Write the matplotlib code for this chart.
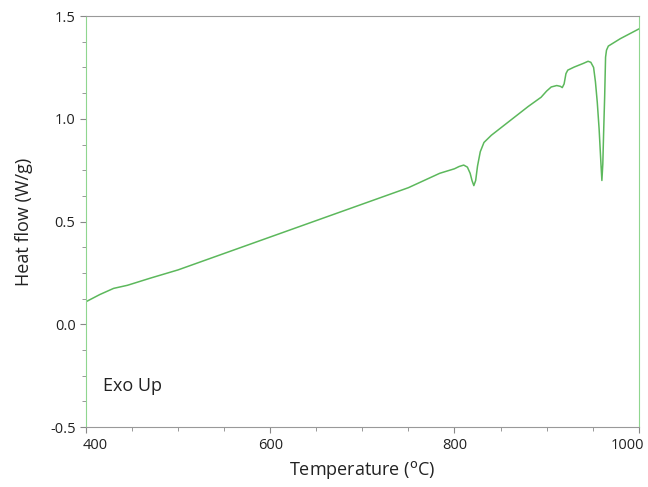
import matplotlib
matplotlib.use("Agg")
from matplotlib import pyplot as plt
from matplotlib.ticker import MultipleLocator
from matplotlib import transforms

plt.rcParams['font.family'] = ['Open Sans', 'DejaVu Sans']

# temperature (C) and heat flow (W/g)
temp = [400, 415, 430, 445, 470, 500, 550, 600, 650, 700, 750, 784, 800,
        805, 810, 814, 817, 819, 821, 823, 825, 828, 832, 840, 860, 880,
        894, 900, 905, 911, 915, 917, 919, 921, 923, 930, 940, 945, 948,
        951, 953, 955, 957, 959, 960, 961, 962, 963, 964, 965, 967, 980, 1000]
flow = [0.11, 0.145, 0.175, 0.19, 0.225, 0.265, 0.345, 0.425, 0.505, 0.585,
        0.665, 0.735, 0.757, 0.768, 0.775, 0.765, 0.735, 0.70, 0.675, 0.70,
        0.77, 0.84, 0.885, 0.92, 0.99, 1.06, 1.105, 1.135, 1.155, 1.162,
        1.158, 1.152, 1.17, 1.22, 1.237, 1.252, 1.27, 1.28, 1.275, 1.25,
        1.18, 1.08, 0.95, 0.78, 0.70, 0.78, 0.95, 1.105, 1.30, 1.334, 1.354,
        1.39, 1.437]

xticks = [400, 600, 800, 1000]
yticks = [-0.5, 0.0, 0.5, 1.0, 1.5]
ylabels = ['-0.5', '0.0', '0.5', '1.0', '1.5']

fig = plt.figure(figsize=(6.48, 4.87), dpi=100)
ax = fig.add_axes([0.1327, 0.123, 0.853, 0.844])

ax.plot(temp, flow, color='#5cb85c', lw=1.1)

ax.set_xlim(400, 1000)
ax.set_ylim(-0.5, 1.5)
ax.set_xticks(xticks)
ax.xaxis.set_minor_locator(MultipleLocator(50))
ax.set_yticks(yticks)
ax.set_yticklabels(ylabels)
ax.yaxis.set_minor_locator(MultipleLocator(0.125))

for s in ['left', 'right']:
    ax.spines[s].set_color('#8fd68f')
for s in ['top', 'bottom']:
    ax.spines[s].set_color('#999999')
ax.tick_params(which='both', direction='out', colors='#888888', labelcolor='#222222', labelsize=10.5)
ax.tick_params(which='major', length=4)
ax.tick_params(which='minor', length=3)
ax.tick_params(axis='x', pad=4)

# end labels sit inside the axis span like in the original
labs = ax.get_xticklabels()
labs[0].set_transform(labs[0].get_transform() + transforms.ScaledTranslation(9/100, 0, fig.dpi_scale_trans))
labs[-1].set_transform(labs[-1].get_transform() + transforms.ScaledTranslation(-11/100, 0, fig.dpi_scale_trans))

ax.set_xlabel('Temperature ($^{\\mathrm{o}}$C)', fontsize=13, color='#222222')
ax.set_ylabel('Heat flow (W/g)', fontsize=13, color='#222222', labelpad=12)
ax.text(419, -0.3, 'Exo Up', fontsize=13, color='#222222', va='center')

plt.savefig('out.png', dpi=100)
